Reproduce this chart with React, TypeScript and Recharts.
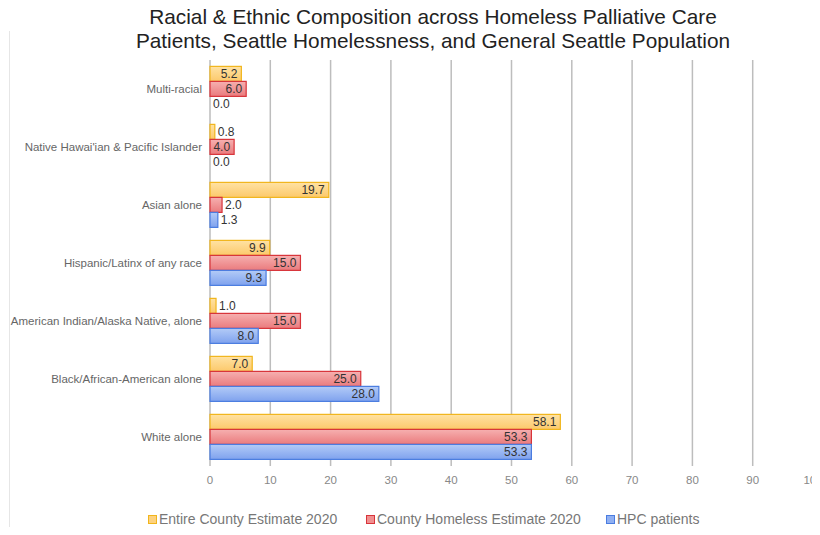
import React from 'react';
import { BarChart, Bar, XAxis, YAxis, CartesianGrid, LabelList } from 'recharts';

// categories top -> bottom
const categories = [
  'Multi-racial',
  "Native Hawai'ian & Pacific Islander",
  'Asian alone',
  'Hispanic/Latinx of any race',
  'American Indian/Alaska Native, alone',
  'Black/African-American alone',
  'White alone',
];
const entireCounty = [5.2, 0.8, 19.7, 9.9, 1.0, 7.0, 58.1];
const countyHomeless = [6.0, 4.0, 2.0, 15.0, 15.0, 25.0, 53.3];
const hpcPatients = [0.0, 0.0, 1.3, 9.3, 8.0, 28.0, 53.3];
const xTicks = [0, 10, 20, 30, 40, 50, 60, 70, 80, 90, 100];

const seriesNames = ['Entire County Estimate 2020', 'County Homeless Estimate 2020', 'HPC patients'];

const data = categories.map((name, i) => ({
  name,
  entire: entireCounty[i],
  homeless: countyHomeless[i],
  hpc: hpcPatients[i],
}));

const font = 'Arial, "Liberation Sans", sans-serif';

// label goes inside the bar end if it fits, otherwise just right of it
const ValueLabel = (props: any) => {
  const { x, y, width, height, value } = props;
  const txt = Number(value).toFixed(1);
  const fits = width > 22;
  return (
    <text
      x={fits ? x + width - 4 : x + width + 3}
      y={y + height / 2 + 4}
      textAnchor={fits ? 'end' : 'start'}
      fontSize={12}
      fontFamily={font}
      fill="#333"
    >
      {txt}
    </text>
  );
};

// no wrapping for the long category names
const CategoryTick = (props: any) => {
  const { x, y, payload } = props;
  return (
    <text x={x} y={y + 4} textAnchor="end" fontSize={11.5} fontFamily={font} fill="#666">
      {payload.value}
    </text>
  );
};

// zero bars are kept (so their 0.0 label shows) but draw nothing
const BarShape = (props: any) => {
  const { x, y, width, height, fill, stroke } = props;
  if (!(width > 0.5)) return <g />;
  return <rect x={x} y={y} width={width} height={height} fill={fill} stroke={stroke} strokeWidth={1.2} />;
};

const legendItems = [
  { name: seriesNames[0], fill: '#fdd27f', stroke: '#f1b51c', left: 148 },
  { name: seriesNames[1], fill: '#f09090', stroke: '#d8343a', left: 366 },
  { name: seriesNames[2], fill: '#90b0f2', stroke: '#4a7ce0', left: 606 },
];

export default function App() {
  return (
    <div style={{ margin: -8, width: 820, height: 535, overflow: 'hidden', position: 'relative', background: '#fff', fontFamily: font }}>
      {/* screenshot frame bits */}
      <div style={{ position: 'absolute', left: 0, top: 0, width: 820, height: 2, background: '#2b3445' }} />
      <div style={{ position: 'absolute', left: 0, top: 0, width: 8, height: 31, background: '#2b3445' }} />
      <div style={{ position: 'absolute', left: 9, top: 31, width: 1, height: 504, background: '#e6e6e6' }} />

      <div style={{ position: 'absolute', left: 0, top: 5, width: 866, textAlign: 'center', fontSize: 20.8, lineHeight: '23.5px', color: '#222' }}>
        Racial &amp; Ethnic Composition across Homeless Palliative Care
        <br />
        Patients, Seattle Homelessness, and General Seattle Population
      </div>

      <div style={{ position: 'absolute', left: 0, top: 0 }}>
        <BarChart
          width={840}
          height={535}
          data={data}
          layout="vertical"
          margin={{ top: 60, right: 27, bottom: 39, left: 0 }}
          barCategoryGap="11%"
          barGap={0}
        >
          <defs>
            <linearGradient id="gY" x1="0" y1="0" x2="0" y2="1">
              <stop offset="0%" stopColor="#ffe2a3" />
              <stop offset="100%" stopColor="#fcc96b" />
            </linearGradient>
            <linearGradient id="gR" x1="0" y1="0" x2="0" y2="1">
              <stop offset="0%" stopColor="#f6b0b0" />
              <stop offset="100%" stopColor="#ea7b7d" />
            </linearGradient>
            <linearGradient id="gB" x1="0" y1="0" x2="0" y2="1">
              <stop offset="0%" stopColor="#b3cbf7" />
              <stop offset="100%" stopColor="#7fa2ee" />
            </linearGradient>
          </defs>
          <CartesianGrid horizontal={false} stroke="#bdbdbd" strokeWidth={1.5} />
          <XAxis
            type="number"
            domain={[0, 100]}
            ticks={xTicks}
            interval={0}
            height={30}
            axisLine={false}
            tickLine={false}
            tickSize={0}
            tickMargin={10}
            tick={{ fontSize: 11.5, fill: '#888', fontFamily: font }}
          />
          <YAxis
            type="category"
            dataKey="name"
            width={210}
            axisLine={false}
            tickLine={false}
            tickSize={0}
            tickMargin={8}
            interval={0}
            tick={CategoryTick}
          />
          <Bar dataKey="entire" name={seriesNames[0]} fill="url(#gY)" stroke="#f1b51c" minPointSize={(v: number) => (v === 0 ? 0.1 : 0)} shape={BarShape} isAnimationActive={false}>
            <LabelList dataKey="entire" content={ValueLabel} />
          </Bar>
          <Bar dataKey="homeless" name={seriesNames[1]} fill="url(#gR)" stroke="#d8343a" minPointSize={(v: number) => (v === 0 ? 0.1 : 0)} shape={BarShape} isAnimationActive={false}>
            <LabelList dataKey="homeless" content={ValueLabel} />
          </Bar>
          <Bar dataKey="hpc" name={seriesNames[2]} fill="url(#gB)" stroke="#4a7ce0" minPointSize={(v: number) => (v === 0 ? 0.1 : 0)} shape={BarShape} isAnimationActive={false}>
            <LabelList dataKey="hpc" content={ValueLabel} />
          </Bar>
        </BarChart>
      </div>

      {legendItems.map((it) => (
        <div key={it.name} style={{ position: 'absolute', left: it.left, top: 511, display: 'flex', alignItems: 'center', fontSize: 14, color: '#777' }}>
          <span style={{ display: 'inline-block', width: 7, height: 7, background: it.fill, border: `1px solid ${it.stroke}`, marginRight: 2 }} />
          {it.name}
        </div>
      ))}
    </div>
  );
}
